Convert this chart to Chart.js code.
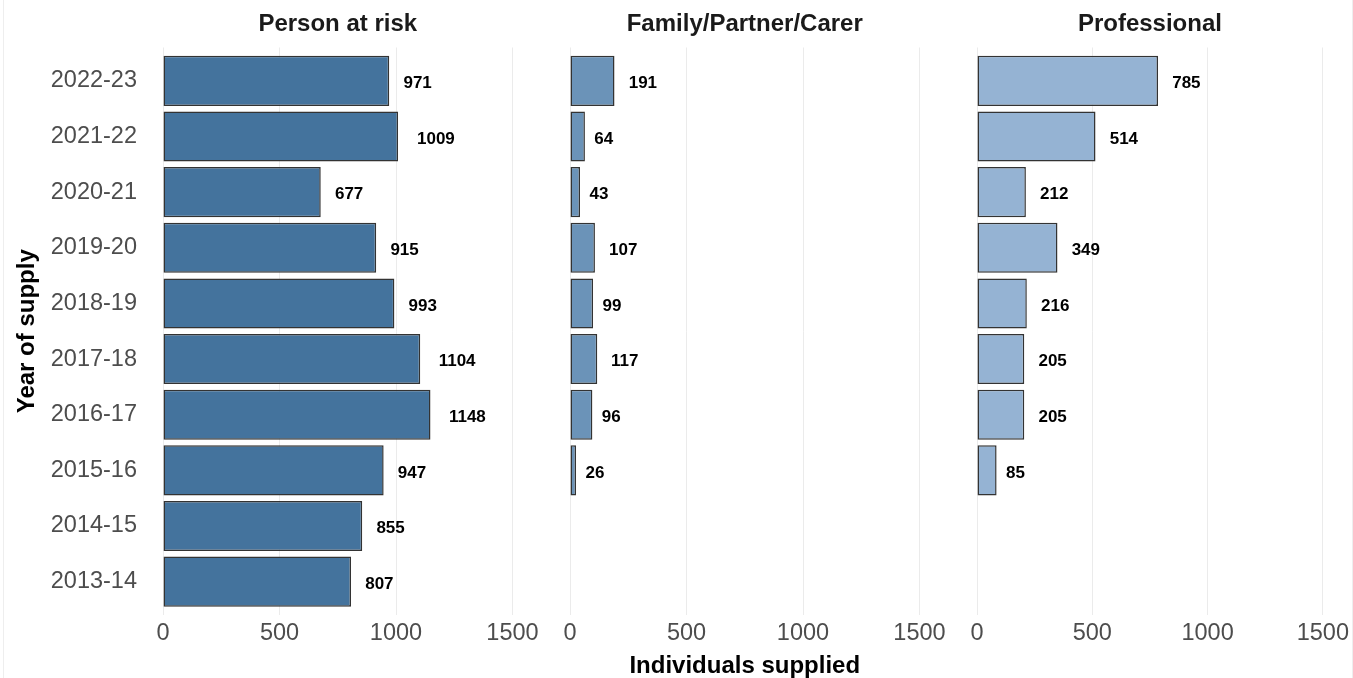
<!DOCTYPE html>
<html>
<head>
<meta charset="utf-8">
<script src="https://cdn.jsdelivr.net/npm/chart.js@4/dist/chart.umd.min.js"></script>
<style>
  html, body { margin: 0; padding: 0; background: #fff; overflow: hidden; }
  #wrap { position: relative; width: 1353px; height: 678px; }
  #wrap canvas { position: absolute; top: 0; }
  .edge { position: absolute; top: 0; width: 1px; height: 678px; background: #eeeeee; }
</style>
</head>
<body>
<div id="wrap">
  <div class="edge" style="left:3px"></div>
  <div class="edge" style="left:1352px"></div>
  <canvas id="chartPerson" width="545" height="678" style="left:0px"></canvas>
  <canvas id="chartFamily" width="410" height="678" style="left:540px"></canvas>
  <canvas id="chartProfessional" width="406" height="678" style="left:947px"></canvas>
</div>
<script>
// data, top row first
const years = ["2022-23", "2021-22", "2020-21", "2019-20", "2018-19",
  "2017-18", "2016-17", "2015-16", "2014-15", "2013-14"];
const personAtRisk = [971, 1009, 677, 915, 993, 1104, 1148, 947, 855, 807];
const familyPartnerCarer = [191, 64, 43, 107, 99, 117, 96, 26, null, null];
const professional = [785, 514, 212, 349, 216, 205, 205, 85, null, null];
const xTicks = [0, 500, 1000, 1500];

const fontName = "'Liberation Sans', Arial, sans-serif";

// strip title above each panel, centred on the plot area
const stripTitle = {
  id: "stripTitle",
  afterDraw(chart, args, opts) {
    let ctx = chart.ctx;
    let area = chart.chartArea;
    ctx.save();
    ctx.font = "bold 24px " + fontName;
    ctx.fillStyle = "#1a1a1a";
    ctx.textAlign = "center";
    ctx.textBaseline = "alphabetic";
    ctx.fillText(opts.text, (area.left + area.right) / 2, 31);
    ctx.restore();
  },
};

// value labels to the right of each bar (hjust -0.5 style)
const barLabels = {
  id: "barLabels",
  afterDatasetsDraw(chart) {
    let ctx = chart.ctx;
    ctx.save();
    ctx.font = "bold 17px " + fontName;
    ctx.fillStyle = "#000";
    ctx.textAlign = "left";
    ctx.textBaseline = "middle";
    chart.data.datasets.forEach((ds, di) => {
      chart.getDatasetMeta(di).data.forEach((bar, i) => {
        let text = String(ds.data[i].x);
        let w = ctx.measureText(text).width;
        ctx.fillText(text, bar.x + w / 2, bar.y + 2.5);
      });
    });
    ctx.restore();
  },
};

function toPoints(values) {
  let points = [];
  values.forEach((v, i) => {
    if (v !== null) points.push({ x: v, y: i });
  });
  return points;
}

function makePanel(id, name, values, color, opts) {
  return new Chart(document.getElementById(id), {
    type: "bar",
    data: {
      datasets: [{
        label: name,
        data: toPoints(values),
        backgroundColor: color,
        borderColor: "#333333",
        borderWidth: 1.5,
        borderSkipped: false,
        barPercentage: 0.9,
        categoryPercentage: 1,
      }],
    },
    options: {
      indexAxis: "y",
      responsive: false,
      animation: false,
      layout: { padding: opts.padding },
      plugins: {
        legend: { display: false },
        tooltip: { enabled: false },
        stripTitle: { text: name },
      },
      scales: {
        x: {
          type: "linear",
          min: 0,
          max: 1500,
          afterBuildTicks: (axis) => {
            axis.ticks = xTicks.map((v) => ({ value: v }));
          },
          afterFit: (scale) => { scale.height = 63; },
          grid: { color: "#ebebeb", lineWidth: 1, drawTicks: false },
          border: { display: false },
          ticks: {
            padding: 4,
            color: "#4d4d4d",
            font: { family: fontName, size: 23.5 },
            maxRotation: 0,
            callback: (value) => String(value),
          },
          title: {
            display: !!opts.xTitle,
            text: opts.xTitle || "",
            color: "#000",
            font: { family: fontName, size: 24, weight: "bold" },
            padding: { top: 0, bottom: -3 },
          },
        },
        y: {
          type: "linear",
          reverse: true,
          offset: false,
          min: -0.6,
          max: years.length - 0.4,
          display: opts.showY,
          afterBuildTicks: (axis) => {
            axis.ticks = years.map((y, i) => ({ value: i }));
          },
          afterFit: (scale) => {
            if (opts.showY) scale.width = 163;
          },
          grid: { display: false, drawTicks: false, offset: false },
          border: { display: false },
          ticks: {
            autoSkip: false,
            padding: 26,
            color: "#4d4d4d",
            font: { family: fontName, size: 23.5 },
            callback: (value) => years[value],
          },
          title: {
            display: true,
            text: "Year of supply",
            color: "#000",
            font: { family: fontName, size: 24, weight: "bold" },
            padding: { top: 13, bottom: 0 },
          },
        },
      },
    },
    plugins: [stripTitle, barLabels],
  });
}

makePanel("chartPerson", "Person at risk", personAtRisk, "#44739d", {
  padding: { top: 47.5, left: 0, right: 32.5, bottom: 0 },
  showY: true,
});
makePanel("chartFamily", "Family/Partner/Carer", familyPartnerCarer, "#6b93b8", {
  padding: { top: 47.5, left: 30, right: 30.5, bottom: 0 },
  showY: false,
  xTitle: "Individuals supplied",
});
makePanel("chartProfessional", "Professional", professional, "#95b3d3", {
  padding: { top: 47.5, left: 30, right: 26.5, bottom: 0 },
  showY: false,
});
</script>
</body>
</html>
